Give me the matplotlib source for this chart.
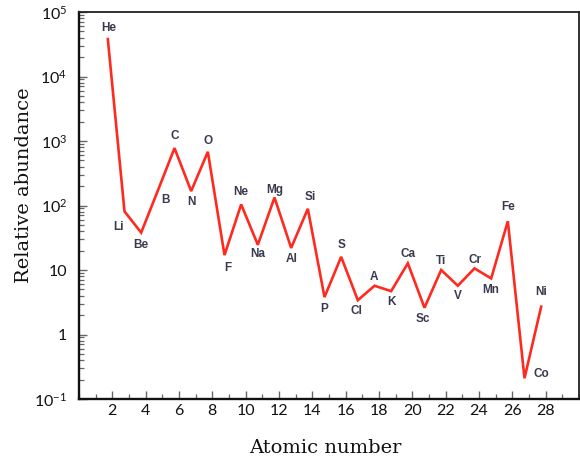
import numpy as np
import matplotlib
matplotlib.use("Agg")
import matplotlib.pyplot as plt
from matplotlib.ticker import FixedLocator, FixedFormatter, LogLocator, NullFormatter, MultipleLocator

# ---- data ----
elements = ["He", "Li", "Be", "B", "C", "N", "O", "F", "Ne", "Na", "Mg", "Al", "Si", "P",
            "S", "Cl", "A", "K", "Ca", "Sc", "Ti", "V", "Cr", "Mn", "Fe", "Co", "Ni"]
atomic_number = [2, 3, 4, 5, 6, 7, 8, 9, 10, 11, 12, 13, 14, 15,
                 16, 17, 18, 19, 20, 21, 22, 23, 24, 25, 26, 27, 28]
abundance = [38000, 81, 38, 170, 776, 167, 680, 17, 104, 24.6, 133, 22, 89, 3.8,
             16, 3.4, 5.7, 4.7, 12.7, 2.6, 10, 5.7, 10.6, 7.4, 57, 0.21, 2.7]
xticks = [2, 4, 6, 8, 10, 12, 14, 16, 18, 20, 22, 24, 26, 28]
yticks = [0.1, 1, 10, 100, 1000, 10000, 100000]
ytick_labels = ["10$^{-1}$", "1", "10", "10$^{2}$", "10$^{3}$", "10$^{4}$", "10$^{5}$"]

# label offsets in pixels (layout only)
label_offsets = [(1, 11), (-6, -16), (0, -12), (8, -9), (0, 12), (0, -11), (0, 11), (3, -13),
                 (0, 12), (0, -9), (0, 8), (0, -11), (2, 12), (0, -12),
                 (0, 12), (-1, -11), (-1, 9), (0, -11), (0, 9), (-2, -11), (0, 9), (0, -10),
                 (0, 8), (0, -12), (0, 14), (17, 4), (0, 15)]

plt.rcParams['mathtext.fontset'] = 'custom'
plt.rcParams['mathtext.rm'] = 'Lato'
plt.rcParams['mathtext.it'] = 'Lato:italic'

fig = plt.figure(figsize=(5.8, 4.63), dpi=100)
ax = fig.add_axes([79/580, 1-399/463, 500/580, 387/463])

xpos = np.array(atomic_number) - 0.27  # drawn slightly left of the integer grid in the source
ax.plot(xpos, abundance, color="#ff2a1f", lw=1.9, solid_joinstyle="miter")

for el, x, y, (dx, dy) in zip(elements, xpos, abundance, label_offsets):
    ax.annotate(el, (x, y), xytext=(dx, dy), textcoords="offset pixels",
                ha="center", va="center", fontsize=8.5, family="Liberation Sans",
                color="#3a3a4e", fontweight="bold")

ax.set_yscale("log")
ax.set_xlim(0, 30)
ax.set_ylim(0.1, 100000)

ax.xaxis.set_major_locator(FixedLocator(xticks))
ax.xaxis.set_minor_locator(MultipleLocator(1))
ax.yaxis.set_major_locator(FixedLocator(yticks))
ax.yaxis.set_major_formatter(FixedFormatter(ytick_labels))
ax.yaxis.set_minor_locator(LogLocator(base=10, subs=np.arange(2, 10)))
ax.yaxis.set_minor_formatter(NullFormatter())

ax.tick_params(which="both", direction="in", color="#666666", top=False, right=False)
ax.tick_params(which="major", length=6, width=1.0)
ax.tick_params(which="minor", length=3.5, width=0.9)
ax.tick_params(axis="x", which="major", pad=3.5)
ax.tick_params(axis="y", which="major", pad=8.5)
for lab in ax.get_xticklabels() + ax.get_yticklabels():
    lab.set_family("Lato")
    lab.set_fontsize(11.5)
    lab.set_color("#111111")

for side in ["left", "bottom"]:
    ax.spines[side].set_linewidth(1.7)
    ax.spines[side].set_color("#111111")
for side in ["top", "right"]:
    ax.spines[side].set_linewidth(1.3)
    ax.spines[side].set_color("#222222")

ax.set_xlabel("Atomic number", family="DejaVu Serif", fontsize=14, color="#111111", va="center")
ax.xaxis.set_label_coords((325-79)/500, (399-448)/387)
ax.set_ylabel("Relative abundance", family="DejaVu Serif", fontsize=14, color="#111111",
              va="center", ha="center")
ax.yaxis.set_label_coords((24-79)/500, (399-185)/387)

fig.savefig("out.png", dpi=100)
